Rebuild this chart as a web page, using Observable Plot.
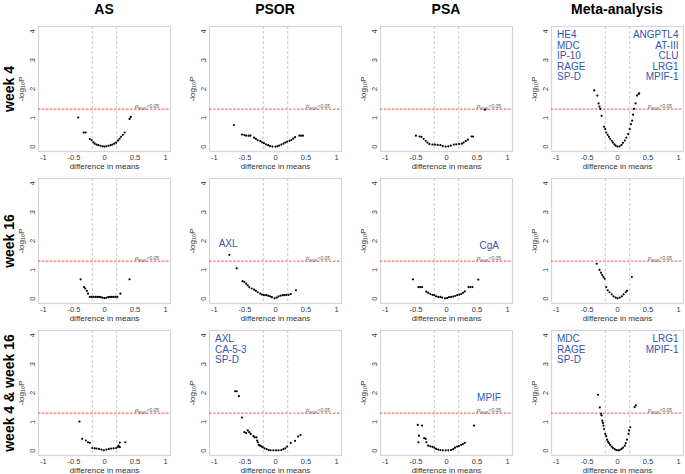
<!DOCTYPE html>
<html><head><meta charset="utf-8">
<script src="https://cdn.jsdelivr.net/npm/d3@7"></script>
<script src="https://cdn.jsdelivr.net/npm/@observablehq/plot@0.6"></script>
<style>
body{margin:0;background:#fff;font-family:"Liberation Sans",Arial,sans-serif;}
#wrap{position:relative;width:685px;height:474px;overflow:hidden;background:#fff;}
.coltitle{position:absolute;top:1px;font-weight:bold;font-size:14px;line-height:16px;text-align:center;width:160px;color:#000;}
.rowtitle{position:absolute;font-weight:bold;font-size:14px;line-height:16px;white-space:nowrap;transform:translate(-50%,-50%) rotate(-90deg);color:#000;}
.panel{position:absolute;}
</style></head><body><div id="wrap"></div>
<script>
const columns = ["AS", "PSOR", "PSA", "Meta-analysis"];
const rows = ["week 4", "week 16", "week 4 & week 16"];
const xTicks = [-1, -0.5, 0, 0.5, 1];
const yTicks = [0, 1, 2, 3, 4];
const fcThreshold = 0.2;
const pThreshold = 0.05;

// [difference in means, -log10 P]
const as_w4 = [[-0.43,1.01],[-0.34,0.49],[-0.31,0.49],[-0.24,0.26],[-0.21,0.22],[-0.18,0.15],[-0.16,0.10],[-0.13,0.07],[-0.10,0.05],[-0.065,0.03],[-0.03,0.01],[0,0],[0.03,0.01],[0.065,0.03],[0.10,0.05],[0.13,0.07],[0.16,0.10],[0.19,0.14],[0.22,0.21],[0.245,0.27],[0.27,0.34],[0.30,0.41],[0.33,0.49],[0.41,0.96],[0.43,1.03]];
const psor_w4 = [[-0.68,0.75],[-0.55,0.42],[-0.51,0.40],[-0.48,0.38],[-0.44,0.38],[-0.41,0.38],[-0.35,0.31],[-0.32,0.27],[-0.29,0.22],[-0.25,0.19],[-0.22,0.15],[-0.19,0.12],[-0.155,0.08],[-0.12,0.05],[-0.09,0.02],[-0.05,0.0],[0,0],[0.03,0.01],[0.06,0.035],[0.095,0.07],[0.13,0.10],[0.16,0.14],[0.19,0.17],[0.23,0.20],[0.26,0.23],[0.29,0.28],[0.32,0.33],[0.39,0.38],[0.42,0.38],[0.45,0.38]];
const psa_w4 = [[-0.50,0.38],[-0.44,0.35],[-0.41,0.34],[-0.375,0.27],[-0.34,0.20],[-0.31,0.14],[-0.28,0.09],[-0.23,0.07],[-0.19,0.07],[-0.145,0.06],[-0.10,0.05],[-0.06,0.02],[-0.014,0.0],[0.03,0.01],[0.07,0.035],[0.12,0.07],[0.16,0.08],[0.205,0.09],[0.25,0.10],[0.28,0.14],[0.315,0.19],[0.35,0.24],[0.41,0.35],[0.435,0.35],[0.63,1.28]];
const meta_w4 = [[-0.38,1.95],[-0.33,1.77],[-0.31,1.50],[-0.295,1.39],[-0.28,1.31],[-0.26,1.07],[-0.22,0.69],[-0.20,0.61],[-0.185,0.49],[-0.16,0.41],[-0.14,0.34],[-0.12,0.27],[-0.095,0.20],[-0.075,0.14],[-0.05,0.08],[-0.03,0.035],[0,0],[0.035,0.01],[0.065,0.06],[0.09,0.13],[0.12,0.21],[0.145,0.31],[0.175,0.43],[0.20,0.61],[0.22,0.78],[0.24,0.90],[0.255,1.11],[0.27,1.31],[0.295,1.50],[0.32,1.77],[0.345,1.83],[0.355,1.85]];

const as_w16 = [[-0.39,0.67],[-0.335,0.40],[-0.315,0.35],[-0.29,0.27],[-0.27,0.17],[-0.24,0.06],[-0.21,0.06],[-0.18,0.06],[-0.15,0.06],[-0.12,0.06],[-0.09,0.06],[-0.06,0.05],[-0.03,0.03],[0,0.02],[0.03,0.03],[0.06,0.05],[0.09,0.06],[0.12,0.06],[0.15,0.06],[0.18,0.06],[0.21,0.06],[0.26,0.17],[0.41,0.67]];
const psor_w16 = [[-0.755,1.52],[-0.635,1.05],[-0.54,0.61],[-0.51,0.58],[-0.48,0.52],[-0.455,0.46],[-0.43,0.40],[-0.39,0.35],[-0.35,0.31],[-0.32,0.27],[-0.29,0.22],[-0.25,0.17],[-0.22,0.14],[-0.19,0.12],[-0.155,0.12],[-0.12,0.10],[-0.09,0.08],[-0.06,0.05],[-0.015,0.01],[0.02,0.035],[0.05,0.08],[0.085,0.10],[0.12,0.12],[0.15,0.12],[0.18,0.13],[0.215,0.13],[0.25,0.16],[0.335,0.29]];
const psa_w16 = [[-0.55,0.67],[-0.46,0.40],[-0.43,0.40],[-0.40,0.40],[-0.33,0.24],[-0.30,0.20],[-0.265,0.16],[-0.23,0.13],[-0.20,0.12],[-0.17,0.08],[-0.135,0.06],[-0.10,0.06],[-0.07,0.035],[-0.025,0.01],[0.01,0.02],[0.04,0.05],[0.075,0.06],[0.11,0.07],[0.14,0.09],[0.175,0.12],[0.21,0.14],[0.24,0.16],[0.27,0.20],[0.30,0.25],[0.36,0.40],[0.39,0.40],[0.425,0.40],[0.52,0.66]];
const meta_w16 = [[-0.34,1.21],[-0.295,1.00],[-0.27,0.90],[-0.25,0.82],[-0.23,0.75],[-0.21,0.69],[-0.185,0.40],[-0.16,0.29],[-0.13,0.22],[-0.095,0.15],[-0.065,0.08],[-0.03,0.035],[0,0.01],[0.035,0.035],[0.07,0.08],[0.10,0.15],[0.135,0.22],[0.155,0.27],[0.235,0.75]];

const as_w4w16 = [[-0.41,1.01],[-0.365,0.41],[-0.305,0.35],[-0.27,0.29],[-0.24,0.27],[-0.20,0.09],[-0.16,0.08],[-0.13,0.07],[-0.09,0.06],[-0.05,0.035],[-0.01,0.01],[0.03,0.035],[0.07,0.06],[0.11,0.07],[0.15,0.08],[0.19,0.09],[0.22,0.13],[0.23,0.17],[0.25,0.28],[0.25,0.12],[0.34,0.29]];
const psor_w4w16 = [[-0.66,2.06],[-0.635,2.06],[-0.60,1.89],[-0.55,1.15],[-0.51,0.64],[-0.48,0.61],[-0.455,0.70],[-0.43,0.64],[-0.405,0.58],[-0.36,0.50],[-0.34,0.46],[-0.31,0.46],[-0.30,0.35],[-0.29,0.29],[-0.275,0.20],[-0.255,0.17],[-0.23,0.15],[-0.21,0.12],[-0.18,0.08],[-0.145,0.05],[-0.11,0.02],[-0.08,0.01],[-0.035,0.01],[0.01,0.01],[0.05,0.01],[0.095,0.02],[0.13,0.05],[0.16,0.08],[0.19,0.14],[0.25,0.26],[0.32,0.34],[0.37,0.49],[0.41,0.54]];
const psa_w4w16 = [[-0.47,0.89],[-0.45,0.52],[-0.46,0.29],[-0.40,0.87],[-0.365,0.43],[-0.34,0.41],[-0.33,0.29],[-0.30,0.17],[-0.265,0.15],[-0.23,0.13],[-0.20,0.10],[-0.17,0.06],[-0.135,0.035],[-0.10,0.02],[-0.06,0.01],[-0.014,0.01],[0.03,0.01],[0.075,0.02],[0.11,0.05],[0.14,0.10],[0.175,0.14],[0.205,0.16],[0.24,0.20],[0.27,0.23],[0.30,0.27],[0.45,0.87]];
const meta_w4w16 = [[-0.32,1.94],[-0.29,1.50],[-0.27,1.28],[-0.26,1.22],[-0.25,1.04],[-0.24,0.96],[-0.23,0.87],[-0.22,0.75],[-0.20,0.58],[-0.185,0.50],[-0.17,0.38],[-0.155,0.31],[-0.14,0.26],[-0.12,0.20],[-0.095,0.14],[-0.075,0.09],[-0.045,0.05],[-0.02,0.02],[0.01,0.01],[0.035,0.02],[0.065,0.06],[0.09,0.10],[0.12,0.17],[0.135,0.26],[0.155,0.38],[0.18,0.58],[0.19,0.70],[0.21,0.81],[0.28,1.51],[0.30,1.57]];

// annotations
const metaW4Left = ["HE4", "MDC", "IP-10", "RAGE", "SP-D"];
const metaW4Right = ["ANGPTL4", "AT-III", "CLU", "LRG1", "MPIF-1"];
const psorW4W16Left = ["AXL", "CA-5-3", "SP-D"];
const metaW4W16Left = ["MDC", "RAGE", "SP-D"];
const metaW4W16Right = ["LRG1", "MPIF-1"];
const psorW16Point = [{x: -0.93, y: 1.91, label: "AXL"}];
const psaW16Point = [{x: 0.54, y: 1.84, label: "CgA"}];
const psaW4W16Point = [{x: 0.50, y: 1.83, label: "MPIF"}];

const panelData = [
  [as_w4, psor_w4, psa_w4, meta_w4],
  [as_w16, psor_w16, psa_w16, meta_w16],
  [as_w4w16, psor_w4w16, psa_w4w16, meta_w4w16]
];
const panelLeft = [[null,null,null,metaW4Left],[null,null,null,null],[null,psorW4W16Left,null,metaW4W16Left]];
const panelRight = [[null,null,null,metaW4Right],[null,null,null,null],[null,null,null,metaW4W16Right]];
const panelPoint = [[null,null,null,null],[null,psorW16Point,psaW16Point,null],[null,null,psaW4W16Point,null]];

const blue = "#2f56ad";
const wrap = document.getElementById("wrap");
const colW = 171, rowH = 152, mL = 38, mT = 6, mB = 20;

function panel(r, c) {
  const data = panelData[r][c];
  const sig = -Math.log10(pThreshold);
  const marks = [
    Plot.frame({stroke: "#d6d6d6", strokeWidth: 1.2}),
    Plot.ruleX([-fcThreshold, fcThreshold], {stroke: "#bcbcbc", strokeDasharray: "3,2", strokeWidth: 0.8}),
    Plot.ruleY([sig], {stroke: "#ff4a4a", strokeDasharray: "2.5,1.5", strokeWidth: 1}),
    Plot.text([sig], {x: 0.5, y: d => d, text: () => "p", fontSize: 6, fontStyle: "italic", textAnchor: "start", lineAnchor: "bottom", dy: -1, fill: "#555"}),
    Plot.text([sig], {x: 0.5, y: d => d, text: () => "FDR", fontSize: 3.8, textAnchor: "start", lineAnchor: "bottom", dy: 0.5, dx: 3.4, fill: "#555"}),
    Plot.text([sig], {x: 0.5, y: d => d, text: () => "<0.05", fontSize: 5, textAnchor: "start", lineAnchor: "bottom", dy: -1, dx: 11.4, fill: "#555"}),
    Plot.dot(data, {x: d => d[0], y: d => d[1], r: 1.1, fill: "#000", stroke: null}),
    Plot.axisX(xTicks, {tickSize: 0, tickPadding: 3, tickFormat: d => String(d), fontSize: 7.5, color: "#3a3a3a", label: null}),
    Plot.axisX([], {tickSize: 0, fontSize: 8, color: "#333", label: "difference in means", labelAnchor: "center", labelOffset: 17.5, labelArrow: "none"}),
    Plot.axisY(yTicks, {tickSize: 0, tickPadding: 4, tickRotate: -90, tickFormat: d => String(d), fontSize: 7.5, color: "#3a3a3a", label: null}),
    Plot.axisY([], {tickSize: 0, fontSize: 8, color: "#333", label: "-log\u2081\u2080P", labelAnchor: "center", labelOffset: 20, labelArrow: "none"})
  ];
  if (panelLeft[r][c]) marks.push(Plot.text([panelLeft[r][c].join("\n")], {text: d => d, frameAnchor: "top-left", textAnchor: "start", lineAnchor: "top", dx: 5.5, dy: 4.5, fontSize: 10, lineHeight: 1.04, fill: blue}));
  if (panelRight[r][c]) marks.push(Plot.text([panelRight[r][c].join("\n")], {text: d => d, frameAnchor: "top-right", textAnchor: "end", lineAnchor: "top", dx: -5, dy: 4.5, fontSize: 10, lineHeight: 1.04, fill: blue}));
  if (panelPoint[r][c]) marks.push(Plot.text(panelPoint[r][c], {x: "x", y: "y", text: "label", textAnchor: "start", fontSize: 10, fill: blue}));
  const svg = Plot.plot({
    width: colW, height: mT + 125 + mB,
    marginLeft: mL, marginRight: 1, marginTop: mT, marginBottom: mB,
    x: {domain: [-1.08, 1.08]},
    y: {domain: [-0.17, 4.17]},
    style: {fontFamily: "'Liberation Sans', Arial, sans-serif", background: "transparent", overflow: "visible"},
    marks
  });
  const div = document.createElement("div");
  div.className = "panel";
  div.style.left = (c * colW) + "px";
  div.style.top = (r * rowH + 20) + "px";
  div.appendChild(svg);
  wrap.appendChild(div);
}

for (let r = 0; r < rows.length; r++) for (let c = 0; c < columns.length; c++) panel(r, c);

columns.forEach((t, c) => {
  const d = document.createElement("div");
  d.className = "coltitle";
  d.textContent = t;
  d.style.left = (c * colW + mL + 66 - 80) + "px";
  wrap.appendChild(d);
});
rows.forEach((t, r) => {
  const d = document.createElement("div");
  d.className = "rowtitle";
  d.textContent = t;
  d.style.left = "9px";
  d.style.top = (r * rowH + 20 + mT + 62.5) + "px";
  wrap.appendChild(d);
});
</script></body></html>
